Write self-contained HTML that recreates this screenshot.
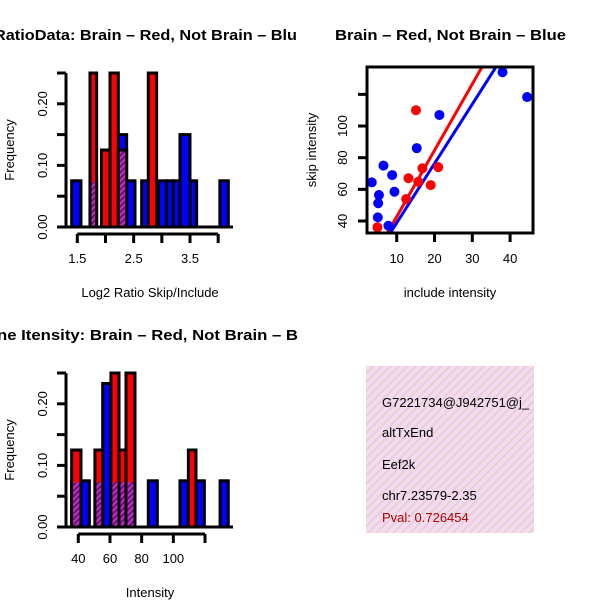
<!DOCTYPE html>
<html><head><meta charset="utf-8"><style>
html,body{margin:0;padding:0;background:#fff;}
svg{display:block;font-family:"Liberation Sans",sans-serif;}
</style></head><body>
<svg id="chart" width="600" height="600" viewBox="0 0 600 600" xmlns="http://www.w3.org/2000/svg">
<defs>
<pattern id="purp" patternUnits="userSpaceOnUse" width="4" height="4" patternTransform="rotate(45)">
<rect width="4" height="4" fill="#6a1080"/><rect width="2" height="4" fill="#c030c0"/></pattern>
<pattern id="pink" patternUnits="userSpaceOnUse" width="6" height="6" patternTransform="rotate(45)">
<rect width="6" height="6" fill="#f8d8f4"/><rect width="2" height="6" fill="#e0d4cc"/></pattern>
<clipPath id="scClip"><rect x="367" y="67" width="166" height="166"/></clipPath>
<clipPath id="boxClip"><rect x="366" y="366" width="168" height="167"/></clipPath>
</defs>
<g id="h1"></g>
<g id="sc"></g>
<g id="h2"></g>
<g>
<rect x="366" y="366" width="168" height="167" fill="url(#pink)"/>
<g clip-path="url(#boxClip)" font-size="13">
<text x="382" y="407">G7221734@J942751@j_</text>
<text x="382" y="437">altTxEnd</text>
<text x="382" y="469">Eef2k</text>
<text x="382" y="500">chr7.23579-2.35</text>
<text x="382" y="522" fill="#b00000">Pval: 0.726454</text>
</g></g>
</svg>
<script>
// Histogram 1 (Log2 ratio) bins
const h1Left  = [1.40,1.725,1.93,2.08,2.228,2.376,2.642,2.76,2.938,3.086,3.204,3.322,3.5,4.03];
const h1Right = [1.565,1.843,2.08,2.228,2.376,2.524,2.79,2.908,3.086,3.204,3.322,3.5,3.618,4.18];
const h1Blue  = [0.075,0.075,0,0,0.15,0.075,0.075,0,0.075,0.075,0.075,0.15,0.075,0.075];
const h1Red   = [0,0.25,0.125,0.25,0.125,0,0,0.25,0,0,0,0,0,0];
const h1XTicks = [1.5,2.0,2.5,3.0,3.5,4.0];
const h1XLabels = ["1.5","","2.5","","3.5",""];
// Histogram 2 (Intensity) bins
const h2Left  = [35.8,41.7,50.5,55.4,60.6,65.7,70.1,84.2,104.2,109.5,114.3,129.5];
const h2Right = [41.7,47,55.4,60.6,65.7,70.1,75.8,89.9,109.5,114.3,119.6,134.7];
const h2Blue  = [0.075,0.075,0.075,0.233,0.075,0.075,0.075,0.075,0.075,0,0.075,0.075];
const h2Red   = [0.125,0,0.125,0,0.25,0.125,0.25,0,0,0.125,0,0];
const h2XTicks = [40,60,80,100,120];
const h2XLabels = ["40","60","80","100",""];
const yTicks = [0,0.05,0.10,0.15,0.20,0.25];
const yLabels = ["0.00","","0.10","","0.20",""];
// Scatter
const blueX = [3.4,5.3,5.1,5.0,6.5,8.8,9.4,7.8,15.3,21.3,38.0,44.5];
const blueY = [64.4,56.4,51.2,42.3,75,69,58.5,37,86,107,134,118.3];
const redX = [4.9,15.1,13.1,16.8,21.0,19.0,12.5,15.7];
const redY = [36,110,67,73.3,74,62.7,53.9,64.8];
const redFit = [0.8,4.19];   // intercept, slope
const blueFit = [1.3,3.75];
const scXTicks = [10,20,30,40];
const scYTicks = [40,60,80,100,120];
const scYLabels = ["40","60","80","100",""];

const NS="http://www.w3.org/2000/svg";
function mk(tag,attrs,parent){const e=document.createElementNS(NS,tag);for(const k in attrs)e.setAttribute(k,attrs[k]);parent.appendChild(e);return e;}

function hist(g,oy,xmin,xmax,pxmin,pxmax,L,R,B,Rd,xt,xl,title,tx,tlen,xlab){
  const sx=v=>pxmin+(v-xmin)*(pxmax-pxmin)/(xmax-xmin);
  const base=oy+227, sy=v=>base-v*(154/0.25);
  const st={stroke:"#000","stroke-width":3};
  for(let i=0;i<L.length;i++){
    if(B[i]>0){const r=mk("rect",Object.assign({x:sx(L[i]),y:sy(B[i]),width:sx(R[i])-sx(L[i]),height:base-sy(B[i]),fill:"#0000ff"},st),g);
      
      }
  }
  for(let i=0;i<L.length;i++){
    if(Rd[i]>0){const r=mk("rect",Object.assign({x:sx(L[i]),y:sy(Rd[i]),width:sx(R[i])-sx(L[i]),height:base-sy(Rd[i]),fill:"#ff0000"},st),g);
      
      }
  }
  for(let i=0;i<L.length;i++){
    const m=Math.min(B[i],Rd[i]);
    if(m>0){const r=mk("rect",{x:sx(L[i])+1.5,y:sy(m)+1.5,width:sx(R[i])-sx(L[i])-3,height:base-sy(m)-3,fill:"url(#purp)"},g);
      
      }
  }
  mk("line",{x1:66,x2:233,y1:base,y2:base,stroke:"#000","stroke-width":3},g);
  mk("line",{x1:66,x2:66,y1:sy(0),y2:sy(0.25),stroke:"#000","stroke-width":3},g);
  yTicks.forEach((v,i)=>{mk("line",{x1:57,x2:66,y1:sy(v),y2:sy(v),stroke:"#000","stroke-width":3},g);
    if(yLabels[i]){const t=mk("text",{x:0,y:0,transform:`translate(47,${sy(v)}) rotate(-90)`,"text-anchor":"middle","font-size":13},g);t.textContent=yLabels[i];
      
      }});
  mk("line",{x1:sx(xt[0]),x2:sx(xt[xt.length-1]),y1:oy+234,y2:oy+234,stroke:"#000","stroke-width":3},g);
  xt.forEach((v,i)=>{mk("line",{x1:sx(v),x2:sx(v),y1:oy+234,y2:oy+243,stroke:"#000","stroke-width":3},g);
    if(xl[i]){const t=mk("text",{x:sx(v),y:oy+263,"text-anchor":"middle","font-size":13},g);t.textContent=xl[i];
      
      }});
  const yl=mk("text",{transform:`translate(14,${oy+150}) rotate(-90)`,"text-anchor":"middle","font-size":13},g);yl.textContent="Frequency";
  
  
  const xa=mk("text",{x:150,y:oy+297,"text-anchor":"middle","font-size":13},g);xa.textContent=xlab;
  
  
  const ti=mk("text",{x:tx,y:oy+40,"font-size":15,"font-weight":"bold",textLength:tlen,lengthAdjust:"spacingAndGlyphs"},g);ti.textContent=title;
  
  
}
hist(document.getElementById('h1'),0,1.5,3.5,77.3,190,h1Left,h1Right,h1Blue,h1Red,h1XTicks,h1XLabels,"RatioData: Brain – Red, Not Brain – Blu",-6,303,"Log2 Ratio Skip/Include");
hist(document.getElementById('h2'),300,40,120,78.3,205,h2Left,h2Right,h2Blue,h2Red,h2XTicks,h2XLabels,"ne Itensity: Brain – Red, Not Brain – B",-3,301,"Intensity");

(function(){
  const g=document.getElementById('sc');
  const sx=v=>358.9+v*3.78, sy=v=>221-(v-40)*1.583;
  const cg=mk("g",{"clip-path":"url(#scClip)"},g);
  [[redFit,"#ff0000"],[blueFit,"#0000ff"]].forEach(([f,c])=>{
    const l=mk("line",{x1:sx(0),y1:sy(f[0]),x2:sx(60),y2:sy(f[0]+f[1]*60),stroke:c,"stroke-width":3},cg);
    
    });
  blueX.forEach((x,i)=>{const c=mk("circle",{cx:sx(x),cy:sy(blueY[i]),r:5,fill:"#0000ff"},cg);
    
    });
  redX.forEach((x,i)=>{const c=mk("circle",{cx:sx(x),cy:sy(redY[i]),r:5,fill:"#ff0000"},cg);
    
    });
  mk("rect",{x:367,y:67,width:166,height:166,fill:"none",stroke:"#000","stroke-width":3},g);
  scXTicks.forEach(v=>{mk("line",{x1:sx(v),x2:sx(v),y1:233,y2:242,stroke:"#000","stroke-width":3},g);
    const t=mk("text",{x:sx(v),y:263,"text-anchor":"middle","font-size":13},g);t.textContent=v;
    
    });
  scYTicks.forEach((v,i)=>{mk("line",{x1:358,x2:367,y1:sy(v),y2:sy(v),stroke:"#000","stroke-width":3},g);
    if(scYLabels[i]){const t=mk("text",{transform:`translate(347,${sy(v)}) rotate(-90)`,"text-anchor":"middle","font-size":13},g);t.textContent=scYLabels[i];
      
      }});
  const xa=mk("text",{x:450,y:297,"text-anchor":"middle","font-size":13},g);xa.textContent="include intensity";
  
  
  const ya=mk("text",{transform:"translate(316,150) rotate(-90)","text-anchor":"middle","font-size":13},g);ya.textContent="skip intensity";
  
  
  const ti=mk("text",{x:335,y:40,"font-size":15,"font-weight":"bold",textLength:231,lengthAdjust:"spacingAndGlyphs"},g);ti.textContent="Brain – Red, Not Brain – Blue";
  
  
})();
</script>
</body></html>
